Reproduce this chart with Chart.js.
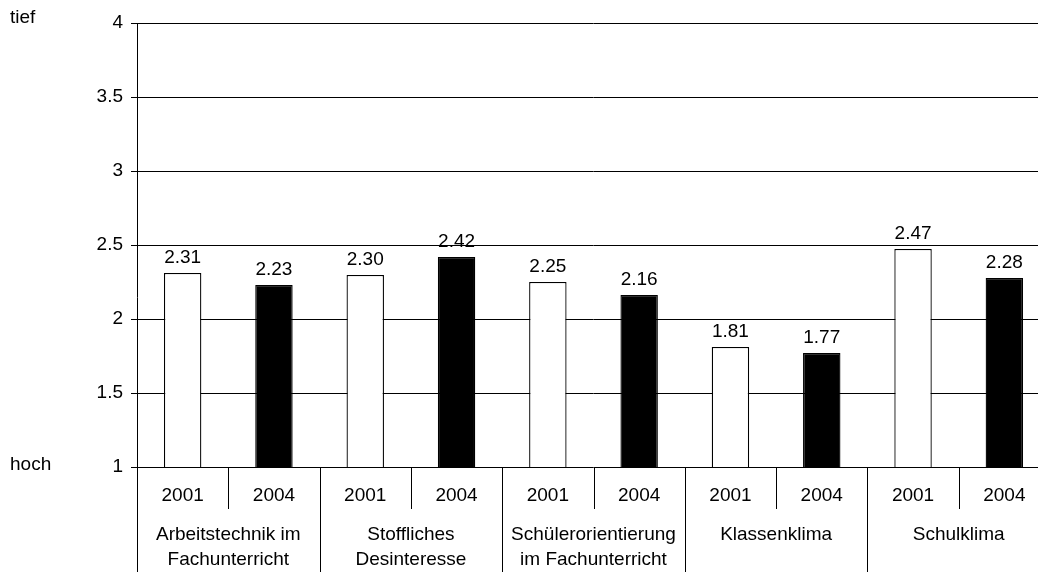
<!DOCTYPE html>
<html>
<head>
<meta charset="utf-8">
<script src="https://cdn.jsdelivr.net/npm/chart.js@4/dist/chart.umd.min.js"></script>
<style>
  html, body { margin: 0; padding: 0; background: #fff; }
  #wrap { width: 1038px; height: 572px; position: relative; overflow: hidden; }
  #c { position: absolute; left: 0; top: 0; }
</style>
</head>
<body>
<div id="wrap"><canvas id="c" width="1050" height="572"></canvas></div>
<script>
// Skala 1 (hoch) bis 4 (tief)
const groups = [
  ['Arbeitstechnik im', 'Fachunterricht'],
  ['Stoffliches', 'Desinteresse'],
  ['Schülerorientierung', 'im Fachunterricht'],
  ['Klassenklima'],
  ['Schulklima']
];
const years = ['2001', '2004'];
const values2001 = [2.31, 2.30, 2.25, 1.81, 2.47];
const values2004 = [2.23, 2.42, 2.16, 1.77, 2.28];
const yTicks = [1, 1.5, 2, 2.5, 3, 3.5, 4];

// one bar per (group, year) pair
const labels = [];
const values = [];
const fills = [];
groups.forEach((g, i) => {
  labels.push(years[0]); values.push(values2001[i]); fills.push('#ffffff');
  labels.push(years[1]); values.push(values2004[i]); fills.push('#000000');
});

const FAMILY = '"Liberation Sans", Arial, sans-serif';
const FONT = '19px ' + FAMILY;

const axisPlugin = {
  id: 'twoLevelAxis',
  afterDraw(chart) {
    const ctx = chart.ctx;
    const area = chart.chartArea;
    const x = chart.scales.x;
    const y = chart.scales.y;
    const H = chart.height;
    const slot = (area.right - area.left) / labels.length;
    ctx.save();
    ctx.strokeStyle = '#000';
    ctx.lineWidth = 1;
    // vertical axis line down to the bottom edge
    const ax = Math.round(area.left) + 0.5;
    ctx.beginPath();
    ctx.moveTo(ax, Math.round(y.getPixelForValue(4)));
    ctx.lineTo(ax, H);
    ctx.stroke();

    const base = Math.round(y.getPixelForValue(1));
    // separators: short between years, long between groups
    for (let i = 1; i < labels.length; i++) {
      const sx = Math.round(area.left + i * slot) + 0.5;
      ctx.beginPath();
      ctx.moveTo(sx, base);
      ctx.lineTo(sx, i % 2 === 0 ? H : base + 42);
      ctx.stroke();
    }

    ctx.fillStyle = '#000';
    ctx.font = FONT;
    ctx.textAlign = 'center';
    ctx.textBaseline = 'middle';
    // year labels
    labels.forEach((l, i) => {
      ctx.fillText(l, x.getPixelForValue(i), base + 29);
    });
    // group labels
    groups.forEach((g, i) => {
      const cx = area.left + (2 * i + 1) * slot;
      g.forEach((line, k) => {
        ctx.fillText(line, cx, base + 68 + k * 25);
      });
    });

    // value labels above bars
    ctx.textBaseline = 'alphabetic';
    const meta = chart.getDatasetMeta(0);
    meta.data.forEach((bar, i) => {
      ctx.fillText(values[i].toFixed(2), bar.x, bar.y - 10);
    });

    // scale end labels
    ctx.textAlign = 'left';
    ctx.textBaseline = 'middle';
    ctx.fillText('tief', 10, y.getPixelForValue(4) - 5);
    ctx.fillText('hoch', 10, y.getPixelForValue(1) - 2);
    ctx.restore();
  }
};

new Chart(document.getElementById('c'), {
  type: 'bar',
  data: {
    labels: labels,
    datasets: [{
      data: values,
      backgroundColor: fills,
      borderColor: '#000',
      borderWidth: 1.3,
      borderSkipped: false,
      categoryPercentage: 1.0,
      barPercentage: 0.41
    }]
  },
  options: {
    responsive: false,
    animation: false,
    events: [],
    layout: { padding: { top: 23, right: 0, bottom: 105, left: 0 } },
    plugins: { legend: { display: false }, tooltip: { enabled: false } },
    scales: {
      x: {
        display: false
      },
      y: {
        min: 1,
        max: 4,
        alignToPixels: true,
        afterFit(s) { s.width = 137; },
        afterBuildTicks(s) { s.ticks = yTicks.map(v => ({ value: v })); },
        border: { display: false },
        grid: {
          color: '#000',
          lineWidth: 1,
          tickLength: 6,
          drawTicks: true
        },
        ticks: {
          color: '#000',
          padding: 8,
          font: { family: FAMILY, size: 19 },
          callback: v => String(v)
        }
      }
    }
  },
  plugins: [axisPlugin]
});
</script>
</body>
</html>
